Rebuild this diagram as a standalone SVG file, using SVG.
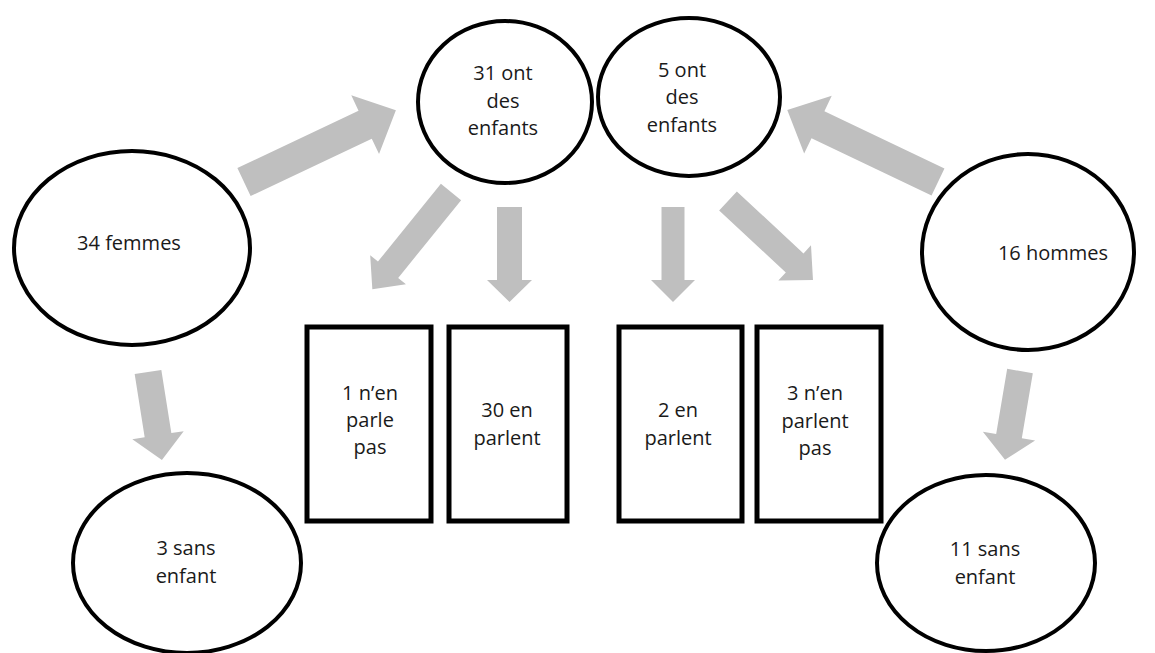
<svg xmlns="http://www.w3.org/2000/svg" width="1155" height="653" viewBox="0 0 1155 653">
<style>
.n{fill:#fff;stroke:#000;stroke-width:4}
.r{fill:#fff;stroke:#000;stroke-width:5}
.a{fill:#bfbfbf;stroke:none}
text{font-family:"Open Sans","DejaVu Sans",sans-serif;font-size:20px;fill:#1a1a1a;text-anchor:middle}
</style>
<rect width="1155" height="653" fill="#fff"/>
<g id="connectors">
<polygon class="a" transform="translate(244,182) rotate(-25.3)" points="0,-15.5 134,-15.5 134,-32.5 168,0 134,32.5 134,15.5 0,15.5"/>
<polygon class="a" transform="translate(938,182) rotate(205.5)" points="0,-15 133,-15 133,-32 167,0 133,32 133,15 0,15"/>
<polygon class="a" transform="translate(451,192) rotate(129)" points="0,-13 100,-13 100,-23 125,0 100,23 100,13 0,13"/>
<polygon class="a" transform="translate(728,201) rotate(42.9)" points="0,-13 91,-13 91,-24 116,0 91,24 91,13 0,13"/>
<polygon class="a" transform="translate(509.5,207) rotate(90)" points="0,-12.5 73,-12.5 73,-22.5 95,0 73,22.5 73,12.5 0,12.5"/>
<polygon class="a" transform="translate(673,207) rotate(90)" points="0,-11.5 73,-11.5 73,-22 95,0 73,22 73,11.5 0,11.5"/>
<polygon class="a" transform="translate(148,372) rotate(81)" points="0,-13.5 64,-13.5 64,-26 89,0 64,26 64,13.5 0,13.5"/>
<polygon class="a" transform="translate(1020,371) rotate(99.6)" points="0,-13 66,-13 66,-26.5 90,0 66,26.5 66,13 0,13"/>
</g>
<g id="femmes">
<ellipse class="n" cx="132" cy="248" rx="118" ry="97"/>
<text x="129" y="250">34 femmes</text>
</g>
<g id="ont31">
<ellipse class="n" cx="505" cy="102" rx="87" ry="81"/>
<text x="503" y="80">31 ont</text>
<text x="503" y="108">des</text>
<text x="503" y="135">enfants</text>
</g>
<g id="ont5">
<ellipse class="n" cx="689" cy="97" rx="91" ry="79"/>
<text x="682" y="77">5 ont</text>
<text x="682" y="104">des</text>
<text x="682" y="132">enfants</text>
</g>
<g id="hommes">
<ellipse class="n" cx="1028" cy="252" rx="106" ry="98"/>
<text x="1053" y="260">16 hommes</text>
</g>
<g id="sans3">
<ellipse class="n" cx="187" cy="563" rx="114" ry="90"/>
<text x="186" y="555">3 sans</text>
<text x="186" y="583">enfant</text>
</g>
<g id="sans11">
<ellipse class="n" cx="986" cy="563" rx="109" ry="88"/>
<text x="985" y="556">11 sans</text>
<text x="985" y="584">enfant</text>
</g>
<g id="rect1">
<rect class="r" x="307" y="327" width="124" height="194"/>
<text x="370" y="400">1 n’en</text>
<text x="370" y="427">parle</text>
<text x="370" y="454">pas</text>
</g>
<g id="rect2">
<rect class="r" x="449" y="327" width="118" height="194"/>
<text x="507" y="417">30 en</text>
<text x="507" y="445">parlent</text>
</g>
<g id="rect3">
<rect class="r" x="619" y="327" width="123" height="194"/>
<text x="678" y="417">2 en</text>
<text x="678" y="445">parlent</text>
</g>
<g id="rect4">
<rect class="r" x="757" y="327" width="124" height="194"/>
<text x="815" y="400">3 n’en</text>
<text x="815" y="428">parlent</text>
<text x="815" y="455">pas</text>
</g>
</svg>
